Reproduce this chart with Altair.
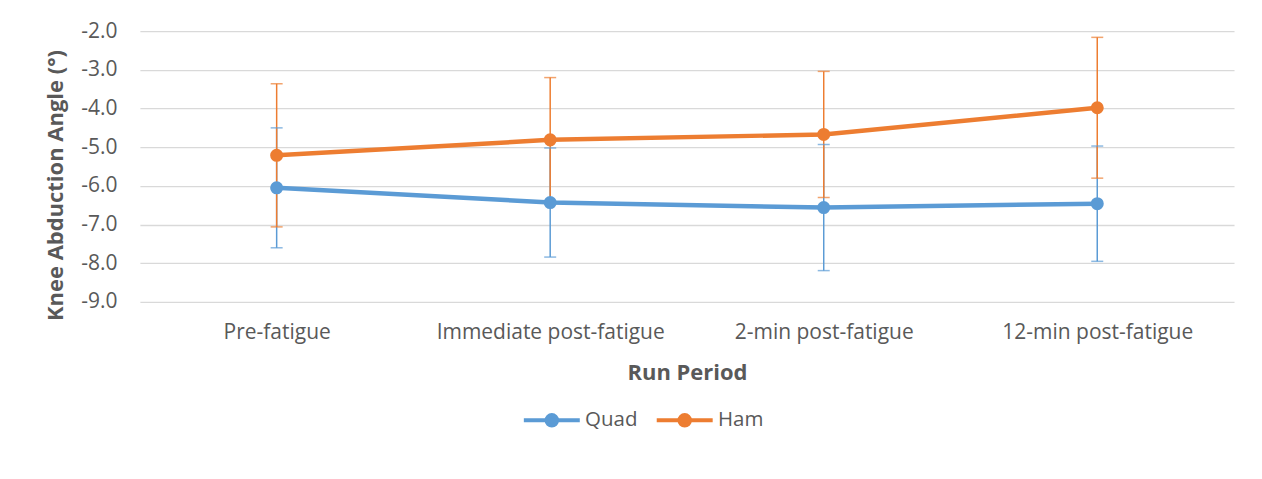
import altair as alt
import pandas as pd

periods = ["Pre-fatigue", "Immediate post-fatigue", "2-min post-fatigue", "12-min post-fatigue"]
series_names = ["Quad", "Ham"]
quad_mean = [-6.05, -6.43, -6.56, -6.46]
quad_sd = [1.55, 1.41, 1.63, 1.49]
ham_mean = [-5.21, -4.81, -4.67, -3.98]
ham_sd = [1.85, 1.61, 1.63, 1.82]
y_ticks = [-9, -8, -7, -6, -5, -4, -3, -2]
colors = ["#5B9BD5", "#ED7D31"]

rows = []
for name, means, sds in [("Quad", quad_mean, quad_sd), ("Ham", ham_mean, ham_sd)]:
    for p, m, s in zip(periods, means, sds):
        rows.append({"period": p, "series": name, "mean": m, "sd": s})
df = pd.DataFrame(rows)

FONT = "Open Sans"
TXT = "#595959"

legend_path = "M-4,0L4,0M-0.75,0A0.75,0.75,0,1,1,0.75,0A0.75,0.75,0,1,1,-0.75,0Z"
legend = alt.Legend(
    title=None, orient="none", direction="horizontal", legendX=402, legendY=379,
    symbolType=legend_path, symbolSize=196, symbolStrokeWidth=4, symbolOpacity=1,
    labelFont=FONT, labelFontSize=20.5, labelColor=TXT, labelOffset=23,
    columnPadding=11, padding=0,
)
color = alt.Color("series:N", scale=alt.Scale(domain=series_names, range=colors), legend=legend)

x = alt.X("period:N", sort=periods, scale=alt.Scale(type="point", padding=0.5),
          axis=alt.Axis(title="Run Period", labelAngle=0, labelFont=FONT, labelFontSize=21,
                        labelColor=TXT, labelPadding=20, labelLimit=0, ticks=False,
                        domain=False, grid=False,
                        titleFont=FONT, titleFontSize=22, titleFontWeight="bold",
                        titleColor=TXT, titlePadding=20))
yscale = alt.Scale(domain=[-9, -2], nice=False, zero=False)
y_axis = alt.Axis(title="Knee Abduction Angle  (°)", values=y_ticks,
                  labelExpr="replace(format(datum.value, '.1f'), '−', '-')",
                  labelOverlap=False, labelFont=FONT, labelFontSize=21, labelColor=TXT,
                  labelPadding=23, ticks=False, domain=False, grid=True,
                  gridColor="#D9D9D9", gridWidth=1.3, titleFont=FONT, titleFontSize=22,
                  titleFontWeight="bold", titleColor=TXT, titleX=-72, titleY=154)
y = alt.Y("mean:Q", scale=yscale, axis=y_axis)

base = alt.Chart(df).transform_calculate(lo="datum.mean - datum.sd", hi="datum.mean + datum.sd")

err = base.mark_rule(strokeWidth=1.5).encode(
    x=x, y=alt.Y("lo:Q", scale=yscale, axis=y_axis), y2="hi:Q", color=color)
cap_lo = base.mark_tick(size=12, thickness=1.5).encode(
    x=x, y=alt.Y("lo:Q", scale=yscale, axis=y_axis), color=color)
cap_hi = base.mark_tick(size=12, thickness=1.5).encode(
    x=x, y=alt.Y("hi:Q", scale=yscale, axis=y_axis), color=color)
lines = base.mark_line(strokeWidth=4.5).encode(x=x, y=y, color=color, detail="series:N")
points = base.mark_point(filled=True, size=170, opacity=1).encode(x=x, y=y, color=color)

chart = alt.layer(err, cap_lo, cap_hi, lines, points).properties(
    width=1095, height=271,
    autosize=alt.AutoSizeParams(type="none"),
    padding={"left": 132, "top": 23, "right": 20, "bottom": 150},
).configure(background="white").configure_view(stroke=None)

chart.save("out.html", embed_options={"renderer": "svg", "actions": False})
